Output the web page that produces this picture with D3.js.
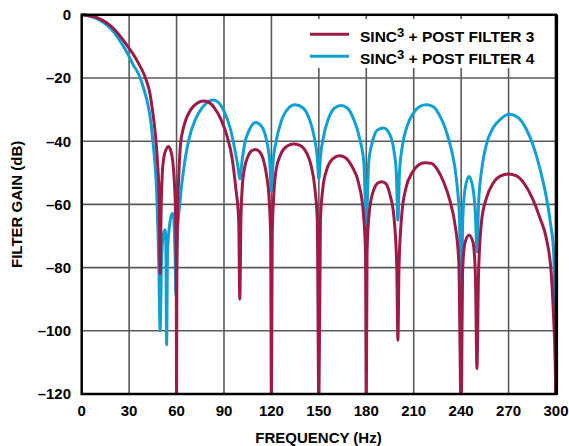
<!DOCTYPE html>
<html>
<head>
<meta charset="utf-8">
<script src="https://cdn.jsdelivr.net/npm/d3@7"></script>
<style>
  body { margin: 0; background: #fff; }
  text { font-family: "Liberation Sans", Arial, Helvetica, sans-serif; font-weight: bold; }
</style>
</head>
<body>
<div id="chart"></div>
<script>
// x axis ticks (Hz) and y axis ticks (dB)
const freqTicks = [0, 30, 60, 90, 120, 150, 180, 210, 240, 270, 300];
const gainTicks = [0, -20, -40, -60, -80, -100, -120];

// sinc3 + post filter 3
const freqPF3 = [0, 10, 20, 25, 30, 33, 35, 38, 40, 42, 43, 44, 45, 46, 47, 48, 49, 49.6, 50.3, 51, 52, 53.5, 54.8, 56, 57.5, 58.5, 59.3, 59.8, 60, 60.2, 60.7, 61.5, 62.5, 64, 66, 69, 73, 77, 80, 84, 88, 92, 95, 97.5, 99.3, 100, 100.7, 101.5, 103, 105, 107.5, 110, 112.5, 115, 117, 118.5, 119.5, 120, 120.5, 121.5, 123, 126, 130, 134, 138, 142, 145, 147.5, 149, 150, 151, 152.5, 155, 159, 163, 167, 171, 175, 178, 179.5, 180, 180.5, 182, 185, 188, 190, 192.5, 195, 197.5, 199.3, 200, 200.7, 202.5, 205, 209, 213, 217, 221, 225, 229, 233, 236, 238.5, 240, 241, 242.5, 245, 247.5, 249, 250, 251, 253, 256, 260, 265, 270, 275, 280, 285, 290, 294, 297, 298.5, 299.5, 300];
const gainPF3 = [0, -1, -4.3, -7.2, -10.6, -12.8, -14.5, -17.3, -19.5, -22.5, -24.5, -27.5, -31, -35, -40, -47, -58, -82, -60, -50, -45, -42.5, -41.7, -42.5, -46, -52, -62, -80, -125, -80, -62, -50, -41, -36.5, -33, -30, -28, -27.3, -27.6, -29.5, -33, -38.5, -45, -55, -65, -90, -65, -55, -48.5, -45, -43, -42.6, -43.3, -46, -51, -58, -70, -125, -70, -57, -49, -44, -41.5, -40.9, -41.3, -43.5, -47.5, -55, -65, -125, -65, -55, -49, -45.5, -44.6, -45.3, -48, -53, -62, -75, -125, -75, -62, -55, -53, -52.8, -53.5, -57, -64, -80, -103, -80, -63, -55, -50, -47.5, -46.8, -47, -49, -53, -59, -66, -78, -125, -80, -72, -69.8, -72, -82, -112, -82, -65, -58, -53.5, -51, -50.4, -51, -53.5, -58, -64.5, -71, -82, -96, -110, -125];

// sinc3 + post filter 4
const freqPF4 = [0, 10, 20, 25, 30, 33, 35, 37, 39, 41, 42, 43, 44, 45, 46, 47, 47.5, 48.2, 48.8, 49.6, 50.5, 51.5, 52.7, 53.2, 53.7, 54.3, 55.5, 56.6, 57.6, 58.4, 59, 59.6, 60.5, 62, 65, 68, 72, 76, 80, 83, 86, 90, 94, 97, 98.8, 100, 101.5, 103, 106, 110, 114, 117, 119, 120, 121, 123, 126, 130, 135, 140, 144, 147, 149, 150, 151, 153, 156, 160, 164, 168, 172, 176, 178.5, 180, 181.5, 184, 187, 191, 194.5, 197.5, 199, 200, 201, 203, 206, 210, 214, 218, 222, 226, 230, 234, 237, 239, 240, 241, 242.5, 245, 247.5, 249, 250, 251, 253, 256, 260, 265, 270.5, 276, 281, 286, 290, 294, 296.5, 298.5, 299.3, 300];
const gainPF4 = [0, -1.3, -5.3, -8.8, -13.2, -16.2, -17.8, -20, -23, -26.5, -28.7, -31.5, -35, -40, -45, -52, -57, -68, -80, -100, -78, -70, -68, -72, -104.5, -75, -67, -63.5, -62.8, -66, -75, -88.7, -70, -60, -47, -39, -33, -29.5, -27.5, -27, -27.5, -30.5, -36, -43, -48, -52, -46, -41, -36.5, -34.1, -35.5, -40, -47, -56, -47, -40, -34, -30, -28.5, -29.5, -33, -38.5, -45, -52, -45, -38.5, -33, -29.5, -28.7, -29.5, -33, -39.5, -47, -66, -47, -40, -36.5, -35.8, -37.5, -43, -50, -65, -50, -41, -35, -31, -29, -28.5, -29, -31.5, -36, -43, -52, -65, -102, -65, -55, -51.2, -55, -63, -75, -60, -49, -41, -36, -33, -31.5, -32.5, -36, -42, -49, -58, -66, -75, -95, -122];

const series = [
  { name: "PF4", freq: freqPF4, gain: gainPF4, color: "#11a0d4" },
  { name: "PF3", freq: freqPF3, gain: gainPF3, color: "#9e1a47" },
];

const W = 569, H = 446;
const plotL = 81.7, plotR = 556, plotT = 14.8, plotB = 394;

const svg = d3
  .select("#chart")
  .append("svg")
  .attr("width", W)
  .attr("height", H);

const x = d3.scaleLinear().domain([0, 300]).range([plotL, plotR]);
const y = d3.scaleLinear().domain([-120, 0]).range([plotB, plotT]);

// grid
svg
  .append("g")
  .selectAll("line")
  .data(freqTicks.slice(1, -1))
  .join("line")
  .attr("x1", (d) => x(d))
  .attr("x2", (d) => x(d))
  .attr("y1", plotT)
  .attr("y2", plotB)
  .attr("stroke", "#5a5a5a")
  .attr("stroke-width", 1.6);
svg
  .append("g")
  .selectAll("line")
  .data(gainTicks.slice(1, -1))
  .join("line")
  .attr("x1", plotL)
  .attr("x2", plotR)
  .attr("y1", (d) => y(d))
  .attr("y2", (d) => y(d))
  .attr("stroke", "#5a5a5a")
  .attr("stroke-width", 1.6);

// legend background hides the grid behind it
svg
  .append("rect")
  .attr("x", 297)
  .attr("y", 19)
  .attr("width", 256)
  .attr("height", 49)
  .attr("fill", "#fff");

svg
  .append("clipPath")
  .attr("id", "plotclip")
  .append("rect")
  .attr("x", plotL)
  .attr("y", plotT - 3)
  .attr("width", plotR - plotL)
  .attr("height", plotB - plotT + 3);

const line = d3
  .line()
  .x((d) => x(d[0]))
  .y((d) => y(d[1]))
  .curve(d3.curveMonotoneX);

svg
  .append("g")
  .attr("clip-path", "url(#plotclip)")
  .selectAll("path")
  .data(series)
  .join("path")
  .attr("fill", "none")
  .attr("stroke", (d) => d.color)
  .attr("stroke-width", 3)
  .attr("stroke-linejoin", "bevel")
  .attr("d", (d) => line(d.freq.map((f, i) => [f, d.gain[i]])));

// frame
svg
  .append("rect")
  .attr("x", plotL)
  .attr("y", plotT)
  .attr("width", plotR - plotL)
  .attr("height", plotB - plotT)
  .attr("fill", "none")
  .attr("stroke", "#000")
  .attr("stroke-width", 2.5);
svg
  .append("line")
  .attr("x1", plotR + 0.5)
  .attr("x2", plotR + 0.5)
  .attr("y1", plotT)
  .attr("y2", plotB + 1)
  .attr("stroke", "#000")
  .attr("stroke-width", 3.2);

// tick labels
svg
  .append("g")
  .selectAll("text")
  .data(freqTicks)
  .join("text")
  .attr("x", (d) => x(d))
  .attr("y", 415.5)
  .attr("text-anchor", "middle")
  .style("font-size", "15px")
  .text((d) => d);
svg
  .append("g")
  .selectAll("text")
  .data(gainTicks)
  .join("text")
  .attr("x", 71)
  .attr("y", (d) => y(d) + 5.3)
  .attr("text-anchor", "end")
  .style("font-size", "15px")
  .text((d) => (d < 0 ? "\u2013" + Math.abs(d) : d));

// axis titles
svg
  .append("text")
  .attr("x", 318.5)
  .attr("y", 443)
  .attr("text-anchor", "middle")
  .style("font-size", "15px")
  .text("FREQUENCY (Hz)");
svg
  .append("text")
  .attr("transform", `translate(22,${(plotT + plotB) / 2}) rotate(-90)`)
  .attr("text-anchor", "middle")
  .style("font-size", "15px")
  .text("FILTER GAIN (dB)");

// legend
const legend = [
  { label: "3", color: "#9e1a47", y: 34.3 },
  { label: "4", color: "#11a0d4", y: 56.3 },
];
legend.forEach((l) => {
  svg
    .append("line")
    .attr("x1", 310)
    .attr("x2", 349)
    .attr("y1", l.y)
    .attr("y2", l.y)
    .attr("stroke", l.color)
    .attr("stroke-width", 3);
  const t = svg
    .append("text")
    .attr("x", 360)
    .attr("y", l.y + 8)
    .style("font-size", "15.5px");
  t.append("tspan").text("SINC");
  t.append("tspan").attr("dy", -5).style("font-size", "13px").text("3");
  t.append("tspan").attr("dy", 5).text(" + POST FILTER " + l.label);
});
</script>
</body>
</html>
